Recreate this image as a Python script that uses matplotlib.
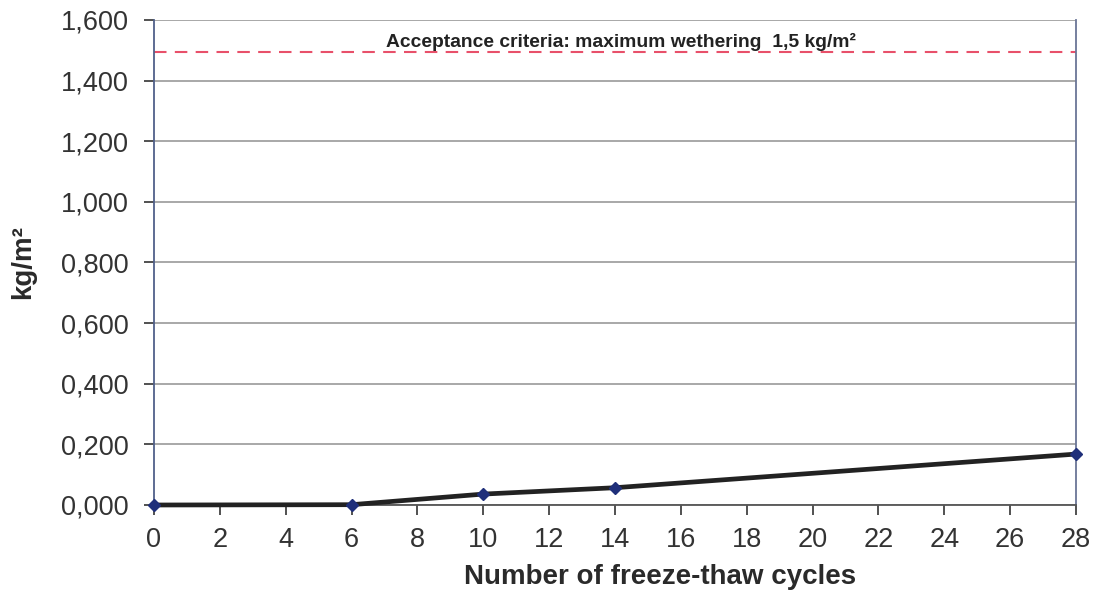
import matplotlib.pyplot as plt
import matplotlib.ticker as mticker

plt.rcParams["font.family"] = ["Liberation Sans", "DejaVu Sans"]

# ── data ──────────────────────────────────────────────────────────────────────
cycles = [0, 6, 10, 14, 28]
weathering = [0.000, 0.001, 0.036, 0.057, 0.168]   # kg/m²
acceptance_limit = 1.495
x_ticks = list(range(0, 29, 2))
y_ticks = [0.0, 0.2, 0.4, 0.6, 0.8, 1.0, 1.2, 1.4, 1.6]

# ── plot ──────────────────────────────────────────────────────────────────────
fig = plt.figure(figsize=(11.03, 5.93), dpi=100)
ax = fig.add_axes([0.1396, 0.1484, 0.8359, 0.8179])

ax.set_xlim(0, 28)
ax.set_ylim(0, 1.6)
ax.set_xticks(x_ticks)
ax.set_yticks(y_ticks)
ax.yaxis.set_major_formatter(mticker.FuncFormatter(lambda v, _: f"{v:.3f}".replace(".", ",")))
ax.grid(axis="y", color="#9a9a9a", linewidth=1.2)
ax.set_axisbelow(True)

ax.axhline(acceptance_limit, color="#e8506a", linewidth=1.5, dashes=(6, 4), zorder=2)
ax.text(7.05, 1.51, "Acceptance criteria: maximum wethering  1,5 kg/m²",
        fontsize=13.9, fontweight="bold", color="#222222", va="baseline", ha="left")

ax.plot(cycles, weathering, color="#222222", linewidth=3.4, zorder=3, clip_on=False)
ax.plot(cycles, weathering, linestyle="none", marker="D", markersize=6.5,
        color="#1f2f7a", zorder=4, clip_on=False)

ax.spines["top"].set_visible(False)
ax.spines["right"].set_color("#6a7596")
ax.spines["left"].set_color("#50608a")
ax.spines["bottom"].set_color("#555555")
for s in ax.spines.values():
    s.set_linewidth(1.3)

ax.tick_params(axis="both", labelsize=19.5, colors="#333333", length=7, width=1.2)
ax.tick_params(axis="x", pad=9)
ax.tick_params(axis="y", pad=11)

ax.set_xlabel("Number of freeze-thaw cycles", fontsize=20, fontweight="bold", color="#2a2a2a")
ax.xaxis.set_label_coords(0.549, -0.122)
ax.set_ylabel("kg/m²", fontsize=20, fontweight="bold", color="#2a2a2a", labelpad=18)

fig.savefig("out.png", dpi=100)
